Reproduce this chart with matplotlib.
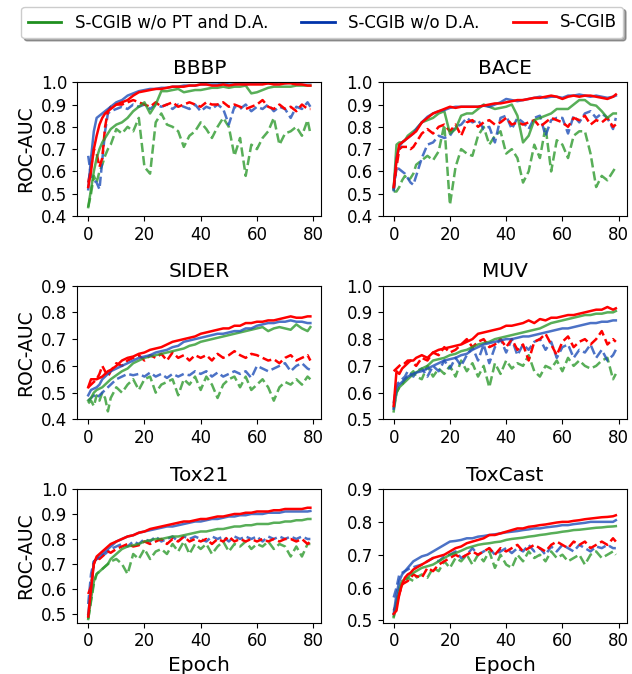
#!/usr/bin/env python3
# _*_ coding=utf-8 _*_

import matplotlib
matplotlib.use("Agg")
import matplotlib.pyplot as plt
from matplotlib.lines import Line2D

EPOCHS = [0, 1, 2, 3, 4, 5, 6, 7,
          8, 10, 12, 14, 16, 18, 20, 22,
          24, 26, 28, 30, 32, 34, 36, 38,
          40, 42, 44, 46, 48, 50, 52, 54,
          56, 58, 60, 62, 64, 66, 68, 70,
          72, 74, 76, 78, 79]

MODELS = ["S-CGIB w/o PT and D.A.", "S-CGIB w/o D.A.", "S-CGIB"]
DATASETS = ["BBBP", "BACE", "SIDER", "MUV", "Tox21", "ToxCast"]

# solid = train, dashed = validation ; order green, blue, red
BBBP_G = [0.44, 0.52, 0.60, 0.66, 0.70, 0.73, 0.75, 0.77,
          0.79, 0.81, 0.82, 0.84, 0.87, 0.89, 0.91, 0.86,
          0.90, 0.96, 0.96, 0.965, 0.97, 0.955, 0.96, 0.965,
          0.965, 0.97, 0.975, 0.975, 0.98, 0.975, 0.98, 0.98,
          0.985, 0.95, 0.955, 0.965, 0.975, 0.98, 0.98, 0.98,
          0.98, 0.985, 0.985, 0.985, 0.985]
BBBP_B = [0.52, 0.66, 0.78, 0.84, 0.85, 0.86, 0.87, 0.88,
          0.89, 0.91, 0.92, 0.94, 0.95, 0.96, 0.965, 0.97,
          0.97, 0.975, 0.975, 0.98, 0.98, 0.985, 0.985, 0.985,
          0.99, 0.99, 0.99, 0.99, 0.995, 0.99, 0.99, 0.995,
          0.99, 0.995, 0.995, 0.995, 0.995, 0.995, 1.0, 0.995,
          1.0, 0.995, 1.0, 1.0, 1.0]
BBBP_R = [0.53, 0.60, 0.70, 0.76, 0.81, 0.84, 0.86, 0.87,
          0.88, 0.90, 0.91, 0.92, 0.94, 0.955, 0.96, 0.965,
          0.97, 0.97, 0.975, 0.98, 0.98, 0.98, 0.985, 0.985,
          0.99, 0.99, 0.985, 0.985, 0.99, 0.985, 0.99, 0.99,
          0.99, 0.99, 0.99, 0.99, 0.995, 0.99, 0.99, 0.995,
          0.995, 0.99, 0.99, 0.985, 0.985]
BBBP_G_VAL = [0.44, 0.50, 0.58, 0.55, 0.60, 0.63, 0.67, 0.70,
              0.72, 0.79, 0.77, 0.80, 0.78, 0.84, 0.62, 0.59,
              0.82, 0.86, 0.81, 0.80, 0.78, 0.71, 0.76, 0.78,
              0.82, 0.79, 0.75, 0.80, 0.84, 0.80, 0.67, 0.75,
              0.58, 0.72, 0.70, 0.75, 0.78, 0.84, 0.72, 0.77,
              0.78, 0.80, 0.76, 0.83, 0.77]
BBBP_B_VAL = [0.67, 0.58, 0.56, 0.55, 0.52, 0.65, 0.78, 0.86,
              0.87, 0.88, 0.89, 0.88, 0.90, 0.89, 0.90, 0.88,
              0.90, 0.89, 0.90, 0.88, 0.90, 0.89, 0.88, 0.90,
              0.87, 0.89, 0.88, 0.90, 0.88, 0.81, 0.89, 0.88,
              0.90, 0.87, 0.89, 0.88, 0.90, 0.87, 0.89, 0.88,
              0.84, 0.89, 0.88, 0.91, 0.89]
BBBP_R_VAL = [0.55, 0.62, 0.70, 0.68, 0.62, 0.66, 0.80, 0.87,
              0.89, 0.90, 0.90, 0.91, 0.92, 0.91, 0.90, 0.89,
              0.91, 0.89, 0.90, 0.91, 0.89, 0.90, 0.91, 0.90,
              0.89, 0.91, 0.90, 0.90, 0.91, 0.89, 0.90, 0.89,
              0.88, 0.89, 0.90, 0.92, 0.89, 0.88, 0.90, 0.88,
              0.89, 0.87, 0.90, 0.88, 0.88]

BACE_G = [0.52, 0.72, 0.73, 0.73, 0.74, 0.76, 0.77, 0.78,
          0.79, 0.82, 0.83, 0.84, 0.86, 0.87, 0.77, 0.79,
          0.85, 0.86, 0.86, 0.88, 0.90, 0.89, 0.88, 0.885,
          0.89, 0.90, 0.85, 0.73, 0.76, 0.83, 0.84, 0.85,
          0.86, 0.88, 0.88, 0.88, 0.90, 0.92, 0.92, 0.90,
          0.895, 0.87, 0.84, 0.86, 0.86]
BACE_B = [0.52, 0.66, 0.71, 0.73, 0.74, 0.75, 0.76, 0.77,
          0.79, 0.82, 0.845, 0.86, 0.87, 0.875, 0.885, 0.89,
          0.89, 0.89, 0.89, 0.89, 0.895, 0.89, 0.90, 0.91,
          0.925, 0.92, 0.915, 0.92, 0.925, 0.93, 0.935, 0.93,
          0.935, 0.935, 0.93, 0.94, 0.94, 0.945, 0.94, 0.935,
          0.94, 0.935, 0.93, 0.935, 0.94]
BACE_R = [0.53, 0.65, 0.72, 0.73, 0.74, 0.75, 0.76, 0.77,
          0.78, 0.82, 0.84, 0.86, 0.87, 0.88, 0.89, 0.885,
          0.89, 0.89, 0.89, 0.89, 0.895, 0.90, 0.905, 0.905,
          0.91, 0.915, 0.92, 0.92, 0.925, 0.93, 0.93, 0.935,
          0.94, 0.935, 0.925, 0.935, 0.94, 0.935, 0.94, 0.94,
          0.935, 0.93, 0.925, 0.935, 0.945]
BACE_G_VAL = [0.51, 0.51, 0.53, 0.56, 0.58, 0.56, 0.57, 0.59,
              0.63, 0.65, 0.67, 0.65, 0.69, 0.81, 0.45, 0.62,
              0.70, 0.68, 0.67, 0.76, 0.80, 0.72, 0.76, 0.78,
              0.68, 0.70, 0.66, 0.55, 0.60, 0.72, 0.66, 0.80,
              0.60, 0.74, 0.72, 0.66, 0.76, 0.78, 0.78, 0.68,
              0.53, 0.58, 0.56, 0.60, 0.62]
BACE_B_VAL = [0.51, 0.62, 0.61, 0.60, 0.59, 0.57, 0.55, 0.54,
              0.58, 0.66, 0.72, 0.73, 0.76, 0.75, 0.76, 0.80,
              0.81, 0.84, 0.82, 0.83, 0.79, 0.80, 0.73, 0.84,
              0.85, 0.79, 0.84, 0.82, 0.79, 0.84, 0.85, 0.76,
              0.83, 0.84, 0.84, 0.77, 0.85, 0.82, 0.86, 0.87,
              0.84, 0.86, 0.84, 0.79, 0.84]
BACE_R_VAL = [0.52, 0.62, 0.70, 0.71, 0.71, 0.71, 0.70, 0.71,
              0.73, 0.77, 0.79, 0.77, 0.80, 0.81, 0.78, 0.81,
              0.76, 0.82, 0.83, 0.80, 0.82, 0.83, 0.81, 0.82,
              0.84, 0.81, 0.82, 0.81, 0.82, 0.83, 0.80, 0.82,
              0.84, 0.83, 0.82, 0.80, 0.84, 0.83, 0.85, 0.81,
              0.83, 0.82, 0.84, 0.80, 0.81]

SIDER_G = [0.47, 0.48, 0.50, 0.51, 0.515, 0.52, 0.53, 0.54,
           0.55, 0.565, 0.58, 0.59, 0.61, 0.62, 0.63, 0.635,
           0.64, 0.645, 0.65, 0.655, 0.66, 0.665, 0.675, 0.68,
           0.69, 0.695, 0.70, 0.705, 0.71, 0.715, 0.72, 0.725,
           0.73, 0.735, 0.74, 0.745, 0.73, 0.74, 0.745, 0.74,
           0.735, 0.755, 0.74, 0.73, 0.745]
SIDER_B = [0.49, 0.51, 0.515, 0.52, 0.53, 0.55, 0.56, 0.57,
           0.58, 0.59, 0.60, 0.61, 0.62, 0.63, 0.635, 0.64,
           0.65, 0.655, 0.66, 0.67, 0.675, 0.69, 0.695, 0.70,
           0.705, 0.71, 0.715, 0.72, 0.72, 0.725, 0.73, 0.73,
           0.74, 0.74, 0.75, 0.755, 0.76, 0.76, 0.765, 0.765,
           0.77, 0.765, 0.765, 0.76, 0.76]
SIDER_R = [0.52, 0.55, 0.55, 0.55, 0.555, 0.56, 0.57, 0.58,
           0.585, 0.60, 0.62, 0.63, 0.635, 0.645, 0.65, 0.66,
           0.665, 0.67, 0.68, 0.69, 0.695, 0.70, 0.705, 0.71,
           0.72, 0.725, 0.73, 0.735, 0.74, 0.74, 0.75, 0.75,
           0.76, 0.76, 0.765, 0.765, 0.77, 0.77, 0.775, 0.78,
           0.785, 0.78, 0.78, 0.785, 0.785]
SIDER_G_VAL = [0.46, 0.47, 0.45, 0.49, 0.47, 0.50, 0.48, 0.43,
               0.48, 0.52, 0.50, 0.53, 0.55, 0.51, 0.55, 0.56,
               0.50, 0.53, 0.54, 0.55, 0.49, 0.55, 0.53, 0.56,
               0.51, 0.56, 0.53, 0.48, 0.53, 0.55, 0.56, 0.52,
               0.56, 0.51, 0.53, 0.55, 0.52, 0.47, 0.52, 0.54,
               0.53, 0.55, 0.53, 0.56, 0.55]
SIDER_B_VAL = [0.47, 0.48, 0.49, 0.48, 0.49, 0.50, 0.51, 0.52,
               0.53, 0.55, 0.56, 0.57, 0.565, 0.57, 0.56, 0.575,
               0.56, 0.57, 0.555, 0.57, 0.56, 0.57, 0.565, 0.58,
               0.57, 0.58, 0.56, 0.575, 0.56, 0.57, 0.58, 0.57,
               0.58, 0.555, 0.60, 0.59, 0.58, 0.59, 0.60, 0.61,
               0.58, 0.60, 0.61, 0.59, 0.585]
SIDER_R_VAL = [0.52, 0.53, 0.54, 0.55, 0.57, 0.60, 0.58, 0.56,
               0.58, 0.61, 0.60, 0.62, 0.63, 0.64, 0.62, 0.64,
               0.63, 0.645, 0.62, 0.65, 0.63, 0.64, 0.62, 0.64,
               0.63, 0.64, 0.62, 0.645, 0.63, 0.64, 0.655, 0.64,
               0.63, 0.645, 0.64, 0.63, 0.62, 0.625, 0.61, 0.63,
               0.64, 0.62, 0.63, 0.64, 0.62]

MUV_G = [0.53, 0.60, 0.62, 0.63, 0.64, 0.65, 0.66, 0.67,
         0.675, 0.69, 0.70, 0.72, 0.725, 0.73, 0.74, 0.745,
         0.755, 0.76, 0.77, 0.78, 0.785, 0.79, 0.80, 0.805,
         0.81, 0.815, 0.82, 0.825, 0.83, 0.835, 0.84, 0.85,
         0.86, 0.865, 0.87, 0.875, 0.88, 0.885, 0.89, 0.89,
         0.895, 0.895, 0.90, 0.90, 0.905]
MUV_B = [0.54, 0.62, 0.63, 0.64, 0.65, 0.66, 0.665, 0.67,
         0.675, 0.68, 0.69, 0.70, 0.71, 0.72, 0.725, 0.73,
         0.74, 0.745, 0.76, 0.77, 0.78, 0.785, 0.79, 0.795,
         0.80, 0.80, 0.805, 0.81, 0.81, 0.815, 0.82, 0.825,
         0.83, 0.835, 0.84, 0.84, 0.845, 0.85, 0.855, 0.86,
         0.86, 0.865, 0.865, 0.87, 0.87]
MUV_R = [0.55, 0.68, 0.67, 0.69, 0.70, 0.71, 0.72, 0.72,
         0.73, 0.74, 0.73, 0.75, 0.76, 0.765, 0.77, 0.775,
         0.78, 0.79, 0.80, 0.82, 0.825, 0.83, 0.835, 0.84,
         0.85, 0.85, 0.855, 0.86, 0.87, 0.86, 0.875, 0.87,
         0.88, 0.88, 0.885, 0.89, 0.89, 0.895, 0.90, 0.905,
         0.91, 0.91, 0.92, 0.91, 0.915]
MUV_G_VAL = [0.54, 0.60, 0.62, 0.63, 0.65, 0.66, 0.67, 0.68,
             0.66, 0.65, 0.70, 0.66, 0.69, 0.67, 0.70, 0.66,
             0.72, 0.68, 0.71, 0.66, 0.70, 0.62, 0.71, 0.67,
             0.72, 0.69, 0.71, 0.70, 0.74, 0.68, 0.66, 0.70,
             0.69, 0.72, 0.68, 0.73, 0.70, 0.72, 0.70, 0.69,
             0.70, 0.72, 0.73, 0.65, 0.67]
MUV_B_VAL = [0.56, 0.63, 0.64, 0.65, 0.66, 0.68, 0.67, 0.66,
             0.68, 0.69, 0.66, 0.70, 0.68, 0.72, 0.69, 0.73,
             0.70, 0.74, 0.77, 0.72, 0.78, 0.71, 0.77, 0.80,
             0.75, 0.80, 0.74, 0.78, 0.76, 0.79, 0.80, 0.76,
             0.79, 0.73, 0.77, 0.78, 0.73, 0.76, 0.75, 0.78,
             0.73, 0.76, 0.72, 0.74, 0.76]
MUV_R_VAL = [0.68, 0.69, 0.70, 0.71, 0.71, 0.72, 0.72, 0.71,
             0.70, 0.73, 0.72, 0.75, 0.74, 0.77, 0.75, 0.76,
             0.78, 0.80, 0.77, 0.79, 0.80, 0.77, 0.78, 0.80,
             0.77, 0.80, 0.76, 0.78, 0.72, 0.79, 0.80, 0.82,
             0.78, 0.74, 0.79, 0.81, 0.77, 0.79, 0.80, 0.78,
             0.80, 0.83, 0.78, 0.80, 0.79]

TOX21_G = [0.48, 0.56, 0.63, 0.66, 0.67, 0.68, 0.69, 0.70,
           0.72, 0.74, 0.76, 0.77, 0.775, 0.78, 0.79, 0.795,
           0.80, 0.80, 0.805, 0.81, 0.81, 0.815, 0.82, 0.825,
           0.83, 0.83, 0.835, 0.84, 0.84, 0.845, 0.85, 0.85,
           0.855, 0.855, 0.86, 0.86, 0.86, 0.865, 0.865, 0.87,
           0.87, 0.875, 0.875, 0.88, 0.88]
TOX21_B = [0.50, 0.60, 0.71, 0.72, 0.73, 0.74, 0.75, 0.76,
           0.77, 0.79, 0.80, 0.81, 0.815, 0.825, 0.83, 0.835,
           0.84, 0.845, 0.85, 0.85, 0.855, 0.86, 0.865, 0.87,
           0.87, 0.875, 0.88, 0.88, 0.885, 0.89, 0.89, 0.895,
           0.895, 0.90, 0.90, 0.90, 0.905, 0.905, 0.905, 0.91,
           0.91, 0.91, 0.91, 0.91, 0.912]
TOX21_R = [0.49, 0.60, 0.70, 0.73, 0.74, 0.75, 0.76, 0.77,
           0.78, 0.79, 0.80, 0.81, 0.815, 0.825, 0.83, 0.84,
           0.845, 0.85, 0.855, 0.86, 0.865, 0.87, 0.87, 0.875,
           0.88, 0.88, 0.885, 0.89, 0.89, 0.895, 0.90, 0.90,
           0.905, 0.905, 0.91, 0.91, 0.91, 0.915, 0.915, 0.92,
           0.92, 0.92, 0.92, 0.925, 0.925]
TOX21_G_VAL = [0.48, 0.55, 0.62, 0.66, 0.67, 0.68, 0.69, 0.70,
               0.71, 0.72, 0.70, 0.66, 0.74, 0.72, 0.76, 0.72,
               0.75, 0.76, 0.74, 0.78, 0.75, 0.79, 0.74, 0.78,
               0.76, 0.78, 0.74, 0.77, 0.79, 0.75, 0.78, 0.77,
               0.79, 0.76, 0.78, 0.77, 0.79, 0.76, 0.78, 0.77,
               0.73, 0.77, 0.73, 0.78, 0.78]
TOX21_B_VAL = [0.54, 0.66, 0.71, 0.72, 0.73, 0.735, 0.74, 0.75,
               0.76, 0.77, 0.78, 0.77, 0.79, 0.78, 0.80, 0.79,
               0.81, 0.79, 0.80, 0.81, 0.79, 0.81, 0.80, 0.81,
               0.80, 0.79, 0.81, 0.80, 0.81, 0.79, 0.81, 0.80,
               0.81, 0.80, 0.81, 0.79, 0.81, 0.80, 0.81, 0.80,
               0.81, 0.80, 0.81, 0.80, 0.80]
TOX21_R_VAL = [0.58, 0.61, 0.70, 0.73, 0.72, 0.73, 0.74, 0.75,
               0.745, 0.76, 0.77, 0.78, 0.77, 0.775, 0.79, 0.78,
               0.79, 0.80, 0.78, 0.80, 0.79, 0.81, 0.79, 0.80,
               0.79, 0.80, 0.78, 0.80, 0.79, 0.81, 0.79, 0.80,
               0.79, 0.80, 0.79, 0.80, 0.79, 0.80, 0.79, 0.80,
               0.80, 0.79, 0.80, 0.78, 0.79]

TOXCAST_G = [0.51, 0.56, 0.60, 0.62, 0.625, 0.63, 0.64, 0.645,
             0.65, 0.66, 0.665, 0.67, 0.68, 0.69, 0.70, 0.705,
             0.712, 0.72, 0.725, 0.73, 0.733, 0.735, 0.738, 0.74,
             0.745, 0.748, 0.75, 0.752, 0.755, 0.757, 0.76, 0.762,
             0.765, 0.767, 0.77, 0.772, 0.775, 0.776, 0.778, 0.78,
             0.782, 0.783, 0.785, 0.786, 0.787]
TOXCAST_B = [0.52, 0.58, 0.62, 0.64, 0.65, 0.66, 0.67, 0.68,
             0.685, 0.695, 0.70, 0.71, 0.72, 0.73, 0.74, 0.742,
             0.745, 0.75, 0.75, 0.755, 0.757, 0.76, 0.762, 0.765,
             0.768, 0.77, 0.772, 0.775, 0.777, 0.78, 0.78, 0.783,
             0.785, 0.787, 0.79, 0.79, 0.793, 0.795, 0.797, 0.80,
             0.80, 0.80, 0.80, 0.80, 0.805]
TOXCAST_R = [0.52, 0.53, 0.58, 0.61, 0.63, 0.64, 0.645, 0.655,
             0.66, 0.67, 0.68, 0.69, 0.695, 0.70, 0.71, 0.72,
             0.725, 0.735, 0.74, 0.745, 0.75, 0.76, 0.76, 0.765,
             0.77, 0.775, 0.78, 0.78, 0.785, 0.787, 0.79, 0.792,
             0.795, 0.798, 0.80, 0.80, 0.803, 0.805, 0.808, 0.81,
             0.812, 0.814, 0.815, 0.817, 0.82]
TOXCAST_G_VAL = [0.51, 0.55, 0.59, 0.61, 0.62, 0.63, 0.625, 0.62,
                 0.63, 0.64, 0.63, 0.66, 0.65, 0.68, 0.66, 0.69,
                 0.68, 0.70, 0.67, 0.70, 0.68, 0.71, 0.66, 0.70,
                 0.67, 0.66, 0.70, 0.68, 0.71, 0.69, 0.70, 0.68,
                 0.71, 0.69, 0.70, 0.68, 0.69, 0.70, 0.67, 0.70,
                 0.71, 0.69, 0.70, 0.71, 0.70]
TOXCAST_B_VAL = [0.57, 0.60, 0.64, 0.645, 0.65, 0.655, 0.66, 0.662,
                 0.665, 0.67, 0.68, 0.69, 0.68, 0.695, 0.70, 0.71,
                 0.69, 0.70, 0.72, 0.70, 0.71, 0.72, 0.70, 0.71,
                 0.72, 0.705, 0.72, 0.71, 0.73, 0.71, 0.72, 0.70,
                 0.725, 0.71, 0.73, 0.72, 0.71, 0.73, 0.72, 0.71,
                 0.725, 0.72, 0.73, 0.72, 0.72]
TOXCAST_R_VAL = [0.53, 0.55, 0.58, 0.61, 0.615, 0.62, 0.63, 0.64,
                 0.635, 0.63, 0.66, 0.65, 0.67, 0.68, 0.69, 0.70,
                 0.69, 0.70, 0.71, 0.70, 0.71, 0.72, 0.70, 0.72,
                 0.71, 0.72, 0.73, 0.71, 0.72, 0.73, 0.72, 0.71,
                 0.73, 0.74, 0.73, 0.72, 0.74, 0.73, 0.74, 0.72,
                 0.73, 0.74, 0.73, 0.75, 0.74]

YLIMS = [(0.4, 1.0), (0.4, 1.0), (0.4, 0.9), (0.5, 1.0), (0.465, 1.0), (0.493, 0.9)]
YTICKS = [[0.4, 0.5, 0.6, 0.7, 0.8, 0.9, 1.0],
          [0.4, 0.5, 0.6, 0.7, 0.8, 0.9, 1.0],
          [0.4, 0.5, 0.6, 0.7, 0.8, 0.9],
          [0.5, 0.6, 0.7, 0.8, 0.9, 1.0],
          [0.5, 0.6, 0.7, 0.8, 0.9, 1.0],
          [0.5, 0.6, 0.7, 0.8, 0.9]]

GREEN = "#2e9a2e"
BLUE = "#1f4fb8"
RED = "#ff0000"


def main():
    train = [(BBBP_G, BBBP_B, BBBP_R), (BACE_G, BACE_B, BACE_R),
             (SIDER_G, SIDER_B, SIDER_R), (MUV_G, MUV_B, MUV_R),
             (TOX21_G, TOX21_B, TOX21_R), (TOXCAST_G, TOXCAST_B, TOXCAST_R)]
    val = [(BBBP_G_VAL, BBBP_B_VAL, BBBP_R_VAL), (BACE_G_VAL, BACE_B_VAL, BACE_R_VAL),
           (SIDER_G_VAL, SIDER_B_VAL, SIDER_R_VAL), (MUV_G_VAL, MUV_B_VAL, MUV_R_VAL),
           (TOX21_G_VAL, TOX21_B_VAL, TOX21_R_VAL),
           (TOXCAST_G_VAL, TOXCAST_B_VAL, TOXCAST_R_VAL)]
    colors = [GREEN, BLUE, RED]
    alphas = [0.8, 0.8, 1.0]

    fig, axes = plt.subplots(3, 2, figsize=(6.32, 6.74), dpi=100)
    fig.subplots_adjust(left=0.122, right=0.992, bottom=0.076, top=0.878,
                        wspace=0.25, hspace=0.52)

    for i, ax in enumerate(axes.flat):
        for k in range(3):
            ax.plot(EPOCHS, val[i][k], ls="--", lw=1.8, color=colors[k],
                    alpha=alphas[k])
        for k in range(3):
            ax.plot(EPOCHS, train[i][k], ls="-", lw=1.8, color=colors[k],
                    alpha=alphas[k])
        ax.set_title(DATASETS[i], fontsize=14.5)
        ax.set_ylim(*YLIMS[i])
        ax.set_yticks(YTICKS[i])
        ax.set_xticks([0, 20, 40, 60, 80])
        ax.tick_params(labelsize=12)
        if i % 2 == 0:
            ax.set_ylabel("ROC-AUC", fontsize=13.5)
        if i >= 4:
            ax.set_xlabel("Epoch", fontsize=14.5)

    handles = [Line2D([], [], color=c, lw=2) for c in ["#1f8f1f", "#0033aa", RED]]
    fig.legend(handles, MODELS, loc="upper center", ncol=3, shadow=True,
               fontsize=12, bbox_to_anchor=(0.51, 0.99), borderaxespad=0.0)

    fig.savefig("out.png", dpi=100)


if __name__ == "__main__":
    main()
